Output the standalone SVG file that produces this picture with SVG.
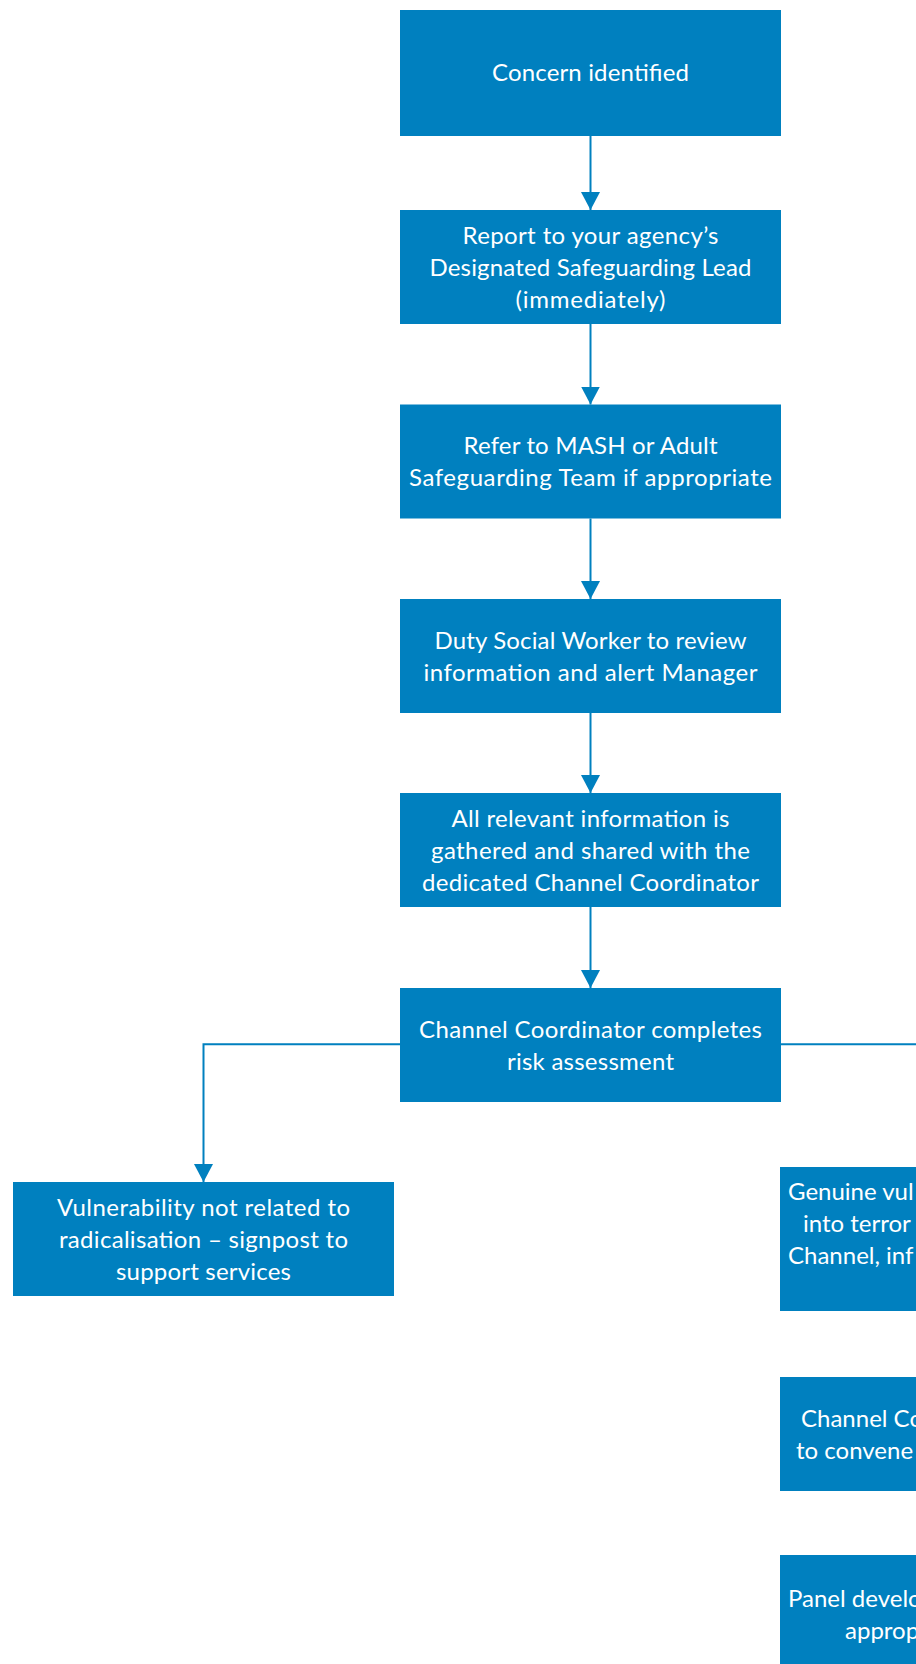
<svg xmlns="http://www.w3.org/2000/svg" width="916" height="1664" viewBox="0 0 916 1664">
<style>
.box{fill:#0080bf;}
.t{fill:#ffffff;font-family:Lato,"Liberation Sans",sans-serif;font-size:24px;text-anchor:middle;}
.f{fill:#ffffff;font-family:Lato,"Liberation Sans",sans-serif;font-size:24px;text-anchor:start;}
.c{fill:none;stroke:#0080bf;stroke-width:2;}
</style>
<defs>
<marker id="arr" markerUnits="userSpaceOnUse" markerWidth="20" markerHeight="20" refX="18" refY="9.5" orient="auto">
<path d="M0,0 L18,9.5 L0,19 z" fill="#0080bf"/>
</marker>
</defs>
<rect width="916" height="1664" fill="#ffffff"/>
<g id="connectors">
<path class="c" d="M590.5,136 V210" marker-end="url(#arr)"/>
<path class="c" d="M590.5,324 V404.5" marker-end="url(#arr)"/>
<path class="c" d="M590.5,518.5 V599" marker-end="url(#arr)"/>
<path class="c" d="M590.5,713 V793" marker-end="url(#arr)"/>
<path class="c" d="M590.5,907 V988" marker-end="url(#arr)"/>
<path class="c" d="M400,1044.3 H203.5 V1182" marker-end="url(#arr)"/>
<path class="c" d="M781,1044.3 H920"/>
</g>
<g id="n1">
<rect class="box" x="400" y="10" width="381" height="126"/>
<text class="t" x="590.5" y="81" textLength="197">Concern identified</text>
</g>
<g id="n2">
<rect class="box" x="400" y="210" width="381" height="114"/>
<text class="t" x="590.5" y="244.3" textLength="256">Report to your agency’s</text>
<text class="t" x="590.5" y="276" textLength="322">Designated Safeguarding Lead</text>
<text class="t" x="590.5" y="307.7" textLength="150">(immediately)</text>
</g>
<g id="n3">
<rect class="box" x="400" y="404.5" width="381" height="114"/>
<text class="t" x="590.5" y="454" textLength="254">Refer to MASH or Adult</text>
<text class="t" x="590.5" y="486" textLength="363">Safeguarding Team if appropriate</text>
</g>
<g id="n4">
<rect class="box" x="400" y="599" width="381" height="114"/>
<text class="t" x="590.5" y="649" textLength="312">Duty Social Worker to review</text>
<text class="t" x="590.5" y="681" textLength="334">information and alert Manager</text>
</g>
<g id="n5">
<rect class="box" x="400" y="793" width="381" height="114"/>
<text class="t" x="590.5" y="826.7" textLength="278">All relevant information is</text>
<text class="t" x="590.5" y="858.7" textLength="319">gathered and shared with the</text>
<text class="t" x="590.5" y="890.7" textLength="337">dedicated Channel Coordinator</text>
</g>
<g id="n6">
<rect class="box" x="400" y="988" width="381" height="114"/>
<text class="t" x="590.5" y="1037.7" textLength="343">Channel Coordinator completes</text>
<text class="t" x="590.5" y="1069.5" textLength="167">risk assessment</text>
</g>
<g id="n7">
<rect class="box" x="13" y="1182" width="381" height="114"/>
<text class="t" x="203.5" y="1216" textLength="293">Vulnerability not related to</text>
<text class="t" x="203.5" y="1248" textLength="289">radicalisation – signpost to</text>
<text class="t" x="203.5" y="1280" textLength="175">support services</text>
</g>
<g id="n8">
<rect class="box" x="780" y="1167" width="140" height="144"/>
<text class="f" x="788" y="1200">Genuine vul</text>
<text class="f" x="803" y="1232">into terror</text>
<text class="f" x="788" y="1263.5">Channel, inf</text>
</g>
<g id="n9">
<rect class="box" x="780" y="1377" width="140" height="114"/>
<text class="f" x="801" y="1427">Channel Co</text>
<text class="f" x="796" y="1458.5">to convene</text>
</g>
<g id="n10">
<rect class="box" x="780" y="1555" width="140" height="115"/>
<text class="f" x="788" y="1607">Panel develo</text>
<text class="f" x="845" y="1639">approp</text>
</g>
</svg>
